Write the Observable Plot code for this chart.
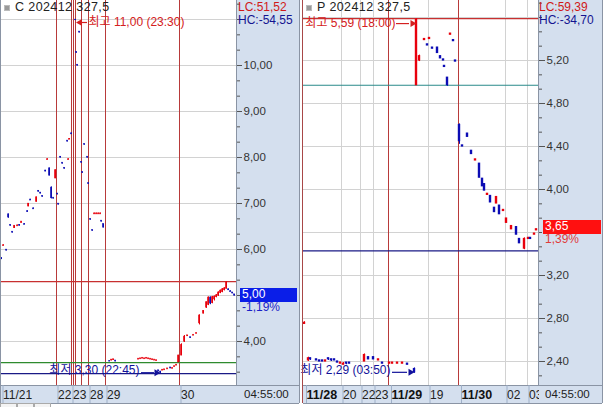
<!DOCTYPE html>
<html><head><meta charset="utf-8">
<script src="https://cdn.jsdelivr.net/npm/d3@7"></script>
<script src="https://cdn.jsdelivr.net/npm/@observablehq/plot@0.6"></script>
<style>
body{margin:0;background:#fff;}
#root{position:relative;width:605px;height:407px;overflow:hidden;font-family:"Liberation Sans","Noto Sans CJK KR",sans-serif;font-size:11.5px;color:#222;}
#root > *{position:absolute;}
svg{background:transparent !important;overflow:visible;}
.t{white-space:nowrap;line-height:13px;}
</style></head><body><div id="root"></div>
<script>
// ---------- CALL panel data ----------
const callTitle = "C 202412 327,5";
const callLC = "LC:51,52";
const callHC = "HC:-54,55";
const callLast = "5,00";
const callLastValue = 5.00;
const callChange = "-1,19%";
const callTime = "04:55:00";
// [bar slot, open, high, low, close]
const callCandles = [
  [0,5.81,5.82,5.78,5.80],[2,6.08,6.10,6.08,6.09],[5,5.99,5.99,5.97,5.98],[7,6.76,6.77,6.68,6.70],
  [9,6.53,6.53,6.51,6.52],[11,6.38,6.38,6.36,6.37],[13,6.47,6.52,6.46,6.51],[16,6.51,6.53,6.51,6.52],
  [18,6.53,6.54,6.51,6.52],[20,6.58,6.60,6.58,6.60],[23,6.55,6.56,6.54,6.54],[26,6.83,6.84,6.81,6.82],
  [27,6.94,7.00,6.93,6.99],[29,7.08,7.09,7.07,7.07],[32,6.89,6.90,6.88,6.88],[35,7.04,7.14,7.03,7.13],
  [37,7.27,7.28,7.25,7.26],[39,7.23,7.24,7.21,7.22],[41,7.16,7.16,7.14,7.15],[44,7.71,7.72,7.69,7.70],
  [46,7.95,7.97,7.95,7.96],[48,7.76,7.77,7.60,7.61],[50,7.34,7.36,7.10,7.12],[52,7.12,7.12,7.10,7.11],
  [54,7.55,7.73,7.54,7.72],[56,7.21,7.21,7.19,7.20],[57,6.99,6.99,6.97,6.98],[59,8.01,8.02,7.99,8.00],
  [61,7.88,7.88,7.86,7.87],[63,7.77,7.77,7.75,7.76],[66,8.36,8.36,8.34,8.35],[67,7.95,7.97,7.95,7.96],
  [68,8.39,8.41,8.39,8.40],[70,8.52,8.53,8.50,8.51],[74,10.99,11.00,10.98,10.99],[75,10.29,10.29,10.27,10.28],
  [76,10.01,10.01,9.99,10.00],[78,10.73,10.73,10.71,10.72],[80,7.90,7.90,7.88,7.89],[81,7.68,7.68,7.66,7.67],
  [83,8.29,8.29,8.27,8.28],[86,8.01,8.01,7.99,8.00],[87,7.44,7.44,7.42,7.43],[89,6.66,6.66,6.64,6.65],
  [91,6.42,6.42,6.40,6.41],[93,6.77,6.79,6.77,6.78],[95,6.77,6.79,6.77,6.78],[97,6.77,6.79,6.77,6.78],
  [99,6.77,6.79,6.77,6.78],[100,6.62,6.62,6.60,6.61],[102,6.55,6.55,6.47,6.48],
  [108,3.57,3.58,3.56,3.57],[110,3.59,3.60,3.58,3.60],[112,3.60,3.61,3.59,3.61],[114,3.58,3.58,3.56,3.57],
  [137,3.61,3.62,3.61,3.62],[139,3.62,3.63,3.62,3.63],[141,3.63,3.64,3.63,3.64],[143,3.62,3.63,3.62,3.63],
  [145,3.63,3.64,3.63,3.64],[147,3.62,3.63,3.62,3.63],[149,3.61,3.62,3.61,3.62],[151,3.60,3.61,3.60,3.61],
  [153,3.59,3.60,3.59,3.60],[155,3.58,3.59,3.58,3.59],
  [157,3.37,3.37,3.35,3.36],[159,3.34,3.35,3.30,3.34],[161,3.37,3.38,3.37,3.38],[163,3.38,3.39,3.38,3.39],
  [166,3.40,3.41,3.40,3.41],[169,3.43,3.43,3.41,3.42],[171,3.41,3.42,3.41,3.42],[173,3.45,3.46,3.45,3.46],
  [175,3.48,3.49,3.48,3.49],
  [177,3.55,3.70,3.54,3.69],[180,3.70,3.95,3.69,3.92],[183,4.00,4.13,3.98,4.10],[186,4.12,4.13,4.11,4.13],
  [189,4.09,4.09,4.07,4.08],[192,4.13,4.14,4.13,4.14],[195,4.17,4.18,4.17,4.18],[198,4.40,4.58,4.36,4.56],
  [202,4.61,4.67,4.60,4.66],[205,4.74,4.86,4.72,4.85],[207,4.80,4.97,4.78,4.95],[209,4.95,4.97,4.80,4.83],
  [211,4.84,4.98,4.82,4.96],[213,4.92,4.99,4.88,4.97],[215,4.97,5.02,4.95,5.00],[217,5.00,5.08,4.98,5.06],
  [219,5.06,5.12,5.04,5.10],[221,5.08,5.15,5.06,5.13],[223,5.12,5.17,5.10,5.15],[225,5.15,5.30,5.14,5.28],
  [227,5.13,5.14,5.11,5.12],[229,5.09,5.10,5.08,5.08],[231,5.06,5.06,5.04,5.05],[233,5.02,5.02,4.99,5.00]
];
const callXTicks = [0, 55, 70, 87, 104, 178];
const callXLabels = ["11/21", "22", "23", "28", "29", "30"];
const callSessionLines = [55, 70, 72, 74, 80, 87, 104, 178];
const callGridLines = [];
const callYTicks = [4, 6, 7, 8, 9, 10];
const callYGrid = [4, 5, 6, 7, 8, 9, 10, 11];
const callLevelValues = [5.30, 3.54, 3.30];
const callLevelColors = ["#c83030", "#2e8b2e", "#1a1a86"];
const callHigh = {x: 74, v: 11.00, label: "최고 11,00 (23:30)"};
const callLow = {x: 159, v: 3.30, label: "최저 3,30 (22:45)"};

// ---------- PUT panel data ----------
const putTitle = "P 202412 327,5";
const putLC = "LC:59,39";
const putHC = "HC:-34,70";
const putLast = "3,65";
const putLastValue = 3.65;
const putChange = "1,39%";
const putTime = "04:55:00";
const putCandles = [
  [1,2.75,2.77,2.75,2.76],[5,2.41,2.44,2.40,2.43],[7,2.43,2.43,2.41,2.42],[13,2.42,2.42,2.41,2.41],
  [16,2.41,2.41,2.40,2.40],[19,2.41,2.41,2.40,2.40],[22,2.40,2.41,2.40,2.41],[25,2.43,2.43,2.41,2.42],
  [28,2.42,2.42,2.40,2.41],[31,2.42,2.42,2.41,2.41],[34,2.40,2.40,2.39,2.39],[37,2.38,2.39,2.38,2.39],
  [40,2.37,2.39,2.37,2.38],[43,2.39,2.39,2.37,2.38],[46,2.39,2.39,2.38,2.38],[61,2.40,2.47,2.40,2.46],
  [65,2.44,2.44,2.42,2.42],[70,2.44,2.44,2.42,2.42],[75,2.41,2.42,2.41,2.42],[79,2.39,2.39,2.38,2.38],
  [86,2.38,2.39,2.38,2.39],[89,2.38,2.39,2.38,2.39],[94,2.38,2.39,2.38,2.39],[99,2.38,2.39,2.38,2.39],
  [104,2.38,2.38,2.37,2.37],[111,2.33,2.34,2.29,2.30],
  [113,4.97,5.59,4.97,5.58],[116,5.20,5.25,5.19,5.24],[121,5.39,5.40,5.39,5.40],[124,5.35,5.35,5.34,5.34],
  [126,5.40,5.41,5.40,5.41],[129,5.32,5.32,5.31,5.31],[134,5.32,5.32,5.27,5.27],[137,5.24,5.24,5.22,5.22],
  [140,5.21,5.21,5.20,5.20],[141,5.15,5.15,5.14,5.14],[144,5.04,5.04,4.96,4.97],[147,5.44,5.45,5.44,5.45],
  [150,5.39,5.39,5.38,5.38],[152,5.20,5.20,5.19,5.19],
  [156,4.60,4.61,4.42,4.45],[159,4.41,4.41,4.40,4.40],[164,4.52,4.52,4.49,4.49],[168,4.36,4.36,4.33,4.33],
  [172,4.27,4.28,4.27,4.28],[176,4.24,4.24,4.11,4.11],[179,4.10,4.10,4.03,4.03],[181,4.05,4.05,3.99,3.99],
  [184,3.95,3.96,3.95,3.96],[187,3.94,3.94,3.88,3.88],[191,3.83,3.83,3.79,3.79],[193,3.87,3.93,3.87,3.93],
  [196,3.85,3.85,3.77,3.77],[200,3.80,3.81,3.80,3.81],[203,3.69,3.73,3.69,3.73],[208,3.63,3.66,3.63,3.66],
  [213,3.65,3.65,3.58,3.58],[216,3.54,3.54,3.50,3.50],[221,3.45,3.55,3.44,3.54],[225,3.54,3.55,3.54,3.55],
  [227,3.55,3.55,3.54,3.54],[231,3.58,3.59,3.58,3.59],[233,3.62,3.63,3.62,3.63]
];
const putXTicks = [0, 38, 57, 70, 85, 125, 155, 202, 224];
const putXLabels = ["11/28", "20", "22", "23", "11/29", "19", "11/30", "02", "03"];
const putXBold = ["11/28", "11/29", "11/30"];
const putSessionLines = [85, 155];
const putGridLines = [38, 57, 70, 125, 202, 224];
const putYTicks = [2.4, 2.8, 3.2, 4.0, 4.4, 4.8, 5.2];
const putYGrid = [2.4, 2.8, 3.2, 3.6, 4.0, 4.4, 4.8, 5.2, 5.6];
const putLevelValues = [5.59, 4.97, 3.43];
const putLevelColors = ["#c83030", "#2a8a8a", "#1a1a86"];
const putHigh = {x: 113, v: 5.59, label: "최고 5,59 (18:00)"};
const putLow = {x: 111, v: 2.29, label: "최저 2,29 (03:50)"};

// ---------- rendering ----------
const FONT = '"Liberation Sans","Noto Sans CJK KR",sans-serif';
const UP = "#e8000c", DOWN = "#0c0cb4", RED = "#d42020", NAVY = "#12129a";
const root = document.getElementById("root");
const fmt = d => d.toFixed(2).replace(".", ",");

function div(style, text) {
  const e = document.createElement("div");
  e.setAttribute("style", style);
  if (text != null) { e.className = "t"; e.textContent = text; }
  root.appendChild(e);
  return e;
}

function arrowMarks(a, color, side, o) {
  // side: +1 text to the right of the bar (arrow points left), -1 text on the left (arrow points right)
  return [
    Plot.ruleY([a], {y: "v", x1: d => d.x + o.l1, x2: d => d.x + o.l2, stroke: color, strokeWidth: 1.2, dy: o.ady}),
    Plot.dot([a], {x: "x", y: "v", symbol: "triangle2", r: 3.3, rotate: side > 0 ? -90 : 90, fill: color, stroke: "none", dx: o.tri, dy: o.ady}),
    Plot.text([a], {x: "x", y: "v", text: "label", textAnchor: side > 0 ? "start" : "end", dx: o.tdx, dy: o.tdy, fill: color,
      fontSize: 12, fontFamily: FONT, letterSpacing: o.ls})
  ];
}

function makePanel(cfg) {
  const rows = cfg.candles.map(([x, o, h, l, c]) => ({x, o, h, l, c, col: c > o ? UP : DOWN}));
  const lab = new Map(cfg.xTicks.map((t, i) => [t, cfg.xLabels[i]]));
  const bold = cfg.xTicks.filter((t, i) => cfg.xBold.includes(cfg.xLabels[i]));
  const norm = cfg.xTicks.filter((t, i) => !cfg.xBold.includes(cfg.xLabels[i]));
  const levels = cfg.levelValues.map((v, i) => ({v, c: cfg.levelColors[i]}));
  const w = cfg.bodyW;
  const marks = [
    Plot.ruleY(cfg.yGrid, {stroke: "#d2d2d2", strokeWidth: 1, shapeRendering: "crispEdges"}),
    Plot.ruleX(cfg.gridLines, {stroke: "#d2d2d2", strokeWidth: 1, shapeRendering: "crispEdges"}),
    Plot.ruleX(cfg.sessionLines, {stroke: "#b83a3a", strokeWidth: 1, shapeRendering: "crispEdges"}),
    Plot.ruleY(levels, {y: "v", stroke: "c", strokeWidth: 1.2}),
    Plot.ruleX(rows, {x: "x", y1: "l", y2: "h", stroke: "col", strokeWidth: 1}),
    Plot.rect(rows, {x1: d => d.x - w, x2: d => d.x + w, y1: d => Math.min(d.o, d.c), y2: d => Math.max(d.o, d.c),
      fill: "col", insetTop: -0.6, insetBottom: -0.6}),
    ...arrowMarks(cfg.high, RED, cfg.highSide, cfg.highOpt),
    ...arrowMarks(cfg.low, NAVY, -1, cfg.lowOpt),
    Plot.axisY(cfg.yMinor, {anchor: "right", tickSize: 3, tickFormat: () => "", stroke: "#555", label: null}),
    Plot.axisY(cfg.yTicks, {anchor: "right", tickSize: cfg.tickSize, tickPadding: 2, tickFormat: fmt, stroke: "#555", fill: "#333",
      fontSize: 11.5, fontFamily: FONT, label: null}),
    Plot.axisX(norm, {anchor: "bottom", tickSize: 18, tickPadding: -13.5, textAnchor: "start", dx: 1.5, label: null,
      tickFormat: d => lab.get(d), stroke: "#9fb0c8", fill: "#222", fontSize: 12, fontFamily: FONT})
  ];
  if (bold.length) marks.push(Plot.axisX(bold, {anchor: "bottom", tickSize: 18, tickPadding: -13.5, textAnchor: "start", dx: 3, label: null,
      tickFormat: d => lab.get(d), stroke: "#9fb0c8", fill: "#111", fontSize: 12.5, fontWeight: "bold", fontFamily: FONT}));
  return Plot.plot({
    width: cfg.width, height: 407,
    marginLeft: cfg.marginLeft, marginRight: cfg.marginRight, marginTop: 0, marginBottom: 22,
    x: {type: "linear", domain: [0, 235], axis: null, label: null},
    y: {domain: cfg.yDomain, axis: null, label: null},
    style: {background: "transparent", fontFamily: FONT, fontSize: "11.5px", overflow: "visible"},
    marks
  });
}

// backgrounds (behind charts)
const AX = "#d4dfee";
div("left:236px;top:0;width:62px;height:385px;background:" + AX + ";border-left:1px solid #8a94a4;");
div("left:0;top:385px;width:299px;height:17px;background:" + AX + ";border-top:1px solid #8a94a4;border-bottom:1px solid #8a94a4;");
div("left:538px;top:0;width:63px;height:385px;background:" + AX + ";border-left:1px solid #8a94a4;");
div("left:303px;top:385px;width:299px;height:17px;background:" + AX + ";border-top:1px solid #8a94a4;border-bottom:1px solid #8a94a4;");

const minorL = d3.range(3 + 1/3, 11.4, 1/3);
const minorR = d3.range(2.4 - 0.4/3, 5.75, 0.4/3);

const left = makePanel({
  candles: callCandles, width: 299, marginLeft: 1, marginRight: 63, bodyW: 0.8,
  yDomain: [11 - 366/46, 11 + 19/46], yGrid: callYGrid, yTicks: callYTicks, yMinor: minorL, tickSize: 5,
  xTicks: callXTicks, xLabels: callXLabels, xBold: [], gridLines: callGridLines, sessionLines: callSessionLines,
  levelValues: callLevelValues, levelColors: callLevelColors,
  high: callHigh, highSide: 1, highOpt: {l1: 6, l2: 12, tri: 4.5, ady: 3, tdx: 13, tdy: 3, ls: 0.6},
  low: callLow, lowOpt: {l1: -19, l2: -6, tri: -4, ady: -1, tdx: -21, tdy: -4, ls: 0.2}
});
left.style.left = "0px"; left.style.top = "0px";
root.appendChild(left);

const right = makePanel({
  candles: putCandles, width: 305, marginLeft: 3, marginRight: 67, bodyW: 1.2,
  yDomain: [5.2 - 325/107.5, 5.2 + 60/107.5], yGrid: putYGrid, yTicks: putYTicks, yMinor: minorR, tickSize: 6,
  xTicks: putXTicks, xLabels: putXLabels, xBold: putXBold, gridLines: putGridLines, sessionLines: putSessionLines,
  levelValues: putLevelValues, levelColors: putLevelColors,
  high: putHigh, highSide: -1, highOpt: {l1: -20, l2: -7, tri: -4, ady: 5, tdx: -21, tdy: 5, ls: 0.2},
  low: putLow, lowOpt: {l1: -22, l2: -7, tri: -4, ady: -1, tdx: -24, tdy: -3, ls: 0.1}
});
right.style.left = "300px"; right.style.top = "0px";
root.appendChild(right);

// frame lines and overlays
div("left:0;top:0;width:1px;height:403px;background:#8a94a4;");
div("left:299px;top:0;width:1px;height:403px;background:#8a94a4;");
div("left:302px;top:0;width:1px;height:403px;background:#a84848;");
div("left:602px;top:0;width:1px;height:403px;background:#8a94a4;");
div("left:237px;top:386px;width:62px;height:17px;background:" + AX + ";");
div("left:539px;top:386px;width:63px;height:17px;background:" + AX + ";");
div("left:244px;top:388px;font-size:11.5px;color:#222;", callTime);
div("left:545px;top:388px;font-size:11.5px;color:#222;", putTime);

// titles
div("left:4px;top:5px;width:4px;height:4px;background:#999;border:1px solid #bbb;");
div("left:15px;top:1px;font-size:12.5px;letter-spacing:0.4px;color:#222;", callTitle);
div("left:306px;top:5px;width:4px;height:4px;background:#999;border:1px solid #bbb;");
div("left:317px;top:1px;font-size:12.5px;letter-spacing:0.4px;color:#222;", putTitle);
div("left:238px;top:1px;font-size:12px;color:#d01818;", callLC);
div("left:238px;top:14px;font-size:12px;color:#141490;", callHC);
div("left:539px;top:1px;font-size:12px;color:#d01818;", putLC);
div("left:539px;top:14px;font-size:12px;color:#141490;", putHC);

// last price boxes, positioned with the charts' y scales
const yl = left.scale("y").apply(callLastValue);
div(`left:240px;top:${yl - 7}px;width:57px;height:14px;background:#0a1ee8;`);
div(`left:242px;top:${yl - 7}px;font-size:12px;color:#fff;`, callLast);
div(`left:242px;top:${yl + 6}px;font-size:12px;color:#1a22c8;`, callChange);
const yr = right.scale("y").apply(putLastValue);
div(`left:543px;top:${yr - 7}px;width:58px;height:14px;background:#ff1010;`);
div(`left:545px;top:${yr - 7}px;font-size:12px;color:#fff;`, putLast);
div(`left:545px;top:${yr + 6}px;font-size:12px;color:#e03a3a;`, putChange);

// bottom tabs
div("left:0;top:403px;width:15px;height:5px;border:1px solid #aaa;border-bottom:none;background:#f4f4f4;");
div("left:17px;top:403px;width:15px;height:5px;border:1px solid #aaa;border-bottom:none;background:#f4f4f4;");
div("left:34px;top:403px;width:15px;height:5px;border:1px solid #aaa;border-bottom:none;background:#f4f4f4;");
</script></body></html>
